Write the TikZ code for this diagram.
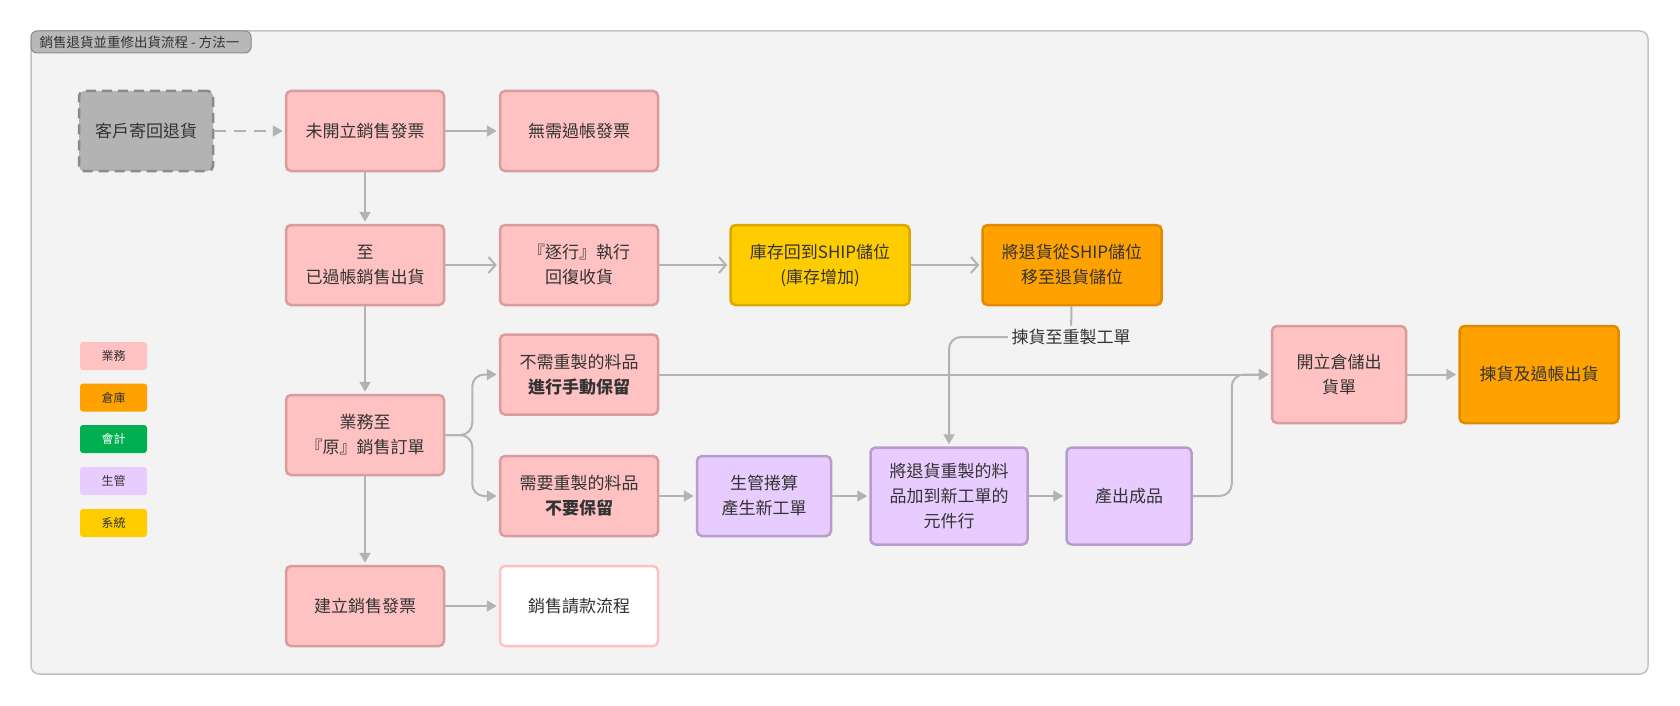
\documentclass[tikz,border=0pt]{standalone}
\usepackage{fontspec}
\setmainfont{Noto Sans CJK TC}
\usetikzlibrary{arrows.meta}

\definecolor{bizfill}{HTML}{FFC2C2}
\definecolor{bizline}{HTML}{D99B9B}
\definecolor{whfill}{HTML}{FFA200}
\definecolor{whline}{HTML}{E08A00}
\definecolor{accfill}{HTML}{00B050}
\definecolor{pcfill}{HTML}{E8CCFF}
\definecolor{pcline}{HTML}{B99CCB}
\definecolor{sysfill}{HTML}{FFCC00}
\definecolor{sysline}{HTML}{DBA800}
\definecolor{ghostfill}{HTML}{B3B3B3}
\definecolor{ghostline}{HTML}{8A8A8A}
\definecolor{panel}{HTML}{F3F3F3}
\definecolor{frameline}{HTML}{C2C2C2}
\definecolor{tabfill}{HTML}{B8B8B8}
\definecolor{wire}{HTML}{B3B3B3}
\definecolor{ink}{HTML}{333333}

\tikzset{
  box/.style={rectangle, rounded corners=5pt, line width=2.5pt, minimum width=158pt,
    minimum height=80pt, align=center, text=ink, font=\fontsize{17}{25}\selectfont},
  biz/.style={box, draw=bizline, fill=bizfill},
  wh/.style={box, draw=whline, fill=whfill},
  sys/.style={box, draw=sysline, fill=sysfill},
  pc/.style={box, draw=pcline, fill=pcfill},
  ghost/.style={box, draw=ghostline, fill=ghostfill, dash pattern=on 10pt off 6pt},
  key/.style={rectangle, rounded corners=3pt, minimum width=67pt, minimum height=28pt,
    text=ink, font=\fontsize{12}{14}\selectfont},
  flow/.style={draw=wire, line width=2pt, -{Triangle[length=10pt,width=11pt]}, shorten >=2pt},
  openflow/.style={draw=wire, line width=2pt, -{Straight Barb[length=7pt,width=16pt]}, shorten >=2pt},
}

\begin{document}
\begin{tikzpicture}[x=1pt, y=-1pt]
  \useasboundingbox (0,0) rectangle (1680,706);

  % frame and title tab
  \draw[draw=frameline, fill=panel, rounded corners=8pt, line width=1.5pt] (31,31) rectangle (1648,674);
  \draw[draw=ghostline, fill=tabfill, rounded corners=6pt, line width=1pt] (31,31) rectangle (251,53);
  \node[anchor=west, text=ink, font=\fontsize{13.5}{15}\selectfont] (title) at (36,42) {銷售退貨並重修出貨流程 - 方法一};

  % legend
  \node[key, fill=bizfill] (kbiz) at (113.5,356) {業務};
  \node[key, fill=whfill] (kwh) at (113.5,397.5) {倉庫};
  \node[key, fill=accfill, text=white] (kacc) at (113.5,439) {會計};
  \node[key, fill=pcfill] (kpc) at (113.5,481) {生管};
  \node[key, fill=sysfill] (ksys) at (113.5,523) {系統};

  % steps
  \node[ghost, minimum width=134pt] (ret) at (146,131) {客戶寄回退貨};
  \node[biz] (noinv) at (365,131) {未開立銷售發票};
  \node[biz] (nopost) at (579,131) {無需過帳發票};
  \node[biz] (posted) at (365,265) {至\\已過帳銷售出貨};
  \node[biz] (byline) at (579,265) {『逐行』執行\\回復收貨};
  \node[sys, minimum width=179pt] (ship) at (820,265) {庫存回到SHIP儲位\\(庫存增加)};
  \node[wh, minimum width=179pt] (move) at (1072,265) {將退貨從SHIP儲位\\移至退貨儲位};
  \node[biz] (keep) at (579,374.5) {不需重製的料品\\\textbf{進行手動保留}};
  \node[biz] (order) at (365,435) {業務至\\『原』銷售訂單};
  \node[biz] (nokeep) at (579,496) {需要重製的料品\\\textbf{不要保留}};
  \node[pc, minimum width=134pt] (wo) at (764,496) {生管捲算\\產生新工單};
  \node[pc, minimum width=157pt, minimum height=97pt] (comp) at (949,496) {將退貨重製的料\\品加到新工單的\\元件行};
  \node[pc, minimum width=125pt, minimum height=97pt] (done) at (1129,496) {產出成品};
  \node[biz, minimum width=134pt, minimum height=97pt] (ticket) at (1339,374.5) {開立倉儲出\\貨單};
  \node[wh, minimum width=159pt, minimum height=97pt] (pick) at (1539,374.5) {揀貨及過帳出貨};
  \node[biz] (inv) at (365,606) {建立銷售發票};
  \node[box, draw=bizfill, fill=white] (bill) at (579,606) {銷售請款流程};
  \node[text=ink, font=\fontsize{17}{25}\selectfont] (pickwo) at (1071,337) {揀貨至重製工單};

  % connectors
  \draw[flow, dash pattern=on 12pt off 8pt] (ret) -- (noinv);
  \draw[flow] (noinv) -- (nopost);
  \draw[flow] (noinv) -- (posted);
  \draw[openflow] (posted) -- (byline);
  \draw[openflow] (byline) -- (ship);
  \draw[openflow] (ship) -- (move);
  \draw[draw=wire, line width=2pt] (move) -- (pickwo);
  \draw[flow, rounded corners=12pt] (pickwo.west) -| (comp.north);
  \draw[flow] (posted) -- (order);
  \draw[flow, rounded corners=12pt] (order.east) -- ++(27,0) |- (keep.west);
  \draw[flow, rounded corners=12pt] (order.east) -- ++(27,0) |- (nokeep.west);
  \draw[flow] (order) -- (inv);
  \draw[flow] (inv) -- (bill);
  \draw[flow] (nokeep) -- (wo);
  \draw[flow] (wo) -- (comp);
  \draw[flow] (comp) -- (done);
  \draw[flow] (keep) -- (ticket);
  \draw[flow, rounded corners=12pt] (done.east) -- ++(39,0) |- (ticket.west);
  \draw[flow] (ticket) -- (pick);
\end{tikzpicture}
\end{document}
